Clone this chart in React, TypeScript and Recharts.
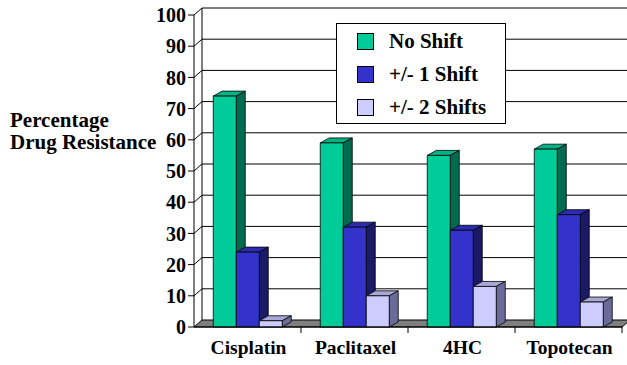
import { BarChart, Bar, XAxis, YAxis, CartesianGrid } from 'recharts'

const drugs = ['Cisplatin', 'Paclitaxel', '4HC', 'Topotecan']
const noShift = [74, 59, 55, 57]
const oneShift = [24, 32, 31, 36]
const twoShifts = [2, 10, 13, 8]
const yTicks = [0, 10, 20, 30, 40, 50, 60, 70, 80, 90, 100]

const seriesNames = ['No Shift', '+/- 1 Shift', '+/- 2 Shifts']

const data = drugs.map((d, i) => ({
  name: d,
  noShift: noShift[i],
  oneShift: oneShift[i],
  twoShifts: twoShifts[i],
}))

const FONT = '"Liberation Serif", "Times New Roman", serif'
const TOP = 15
const BOTTOM = 327
const DX = 8
const DY = 7

const colors = [
  { front: '#00cc99', top: '#00b386', side: '#006b4f' },
  { front: '#3333cc', top: '#2c2cb0', side: '#1a1a66' },
  { front: '#ccccff', top: '#a8a8d8', side: '#6b6b99' },
]

function bar3d(c: { front: string; top: string; side: string }) {
  return (props: any) => {
    const { x, y, width: w, height: h } = props
    const bx = 9
    const by = 5
    return (
      <g stroke="#000" strokeWidth={0.8} strokeLinejoin="round">
        <polygon points={`${x},${y} ${x + bx},${y - by} ${x + w + bx},${y - by} ${x + w},${y}`} fill={c.top} />
        <polygon points={`${x + w},${y} ${x + w + bx},${y - by} ${x + w + bx},${y + h - by} ${x + w},${y + h}`} fill={c.side} />
        <rect x={x} y={y} width={w} height={h} fill={c.front} />
      </g>
    )
  }
}

function gridLine(props: any) {
  const { x1, y1, x2 } = props
  if (Math.abs(y1 - BOTTOM) < 1) {
    return (
      <g key={props.key}>
        <polygon
          points={`${x1},${y1} ${x1 + DX},${y1 - DY} ${x2 + DX},${y1 - DY} ${x2},${y1}`}
          fill="#7f7f7f"
          stroke="#000"
          strokeWidth={1}
        />
      </g>
    )
  }
  return (
    <g key={props.key}>
      <path d={`M${x1},${y1} L${x1 + DX},${y1 - DY} L${x2 + DX},${y1 - DY}`} fill="none" stroke="#000" strokeWidth={1} />
      {Math.abs(y1 - TOP) < 1 && (
        <line x1={x1 + DX} y1={y1 - DY} x2={x1 + DX} y2={BOTTOM - DY} stroke="#000" strokeWidth={1} />
      )}
    </g>
  )
}

function XTick(props: any) {
  const { x, y, payload } = props
  const half = (622 - 194) / drugs.length / 2
  return (
    <g>
      <line x1={x + half} y1={BOTTOM} x2={x + half} y2={BOTTOM + 6} stroke="#000" strokeWidth={1} />
      <text x={x + 1} y={y + 19} textAnchor="middle" fontFamily={FONT} fontWeight="bold" fontSize={19.5} fill="#000">
        {payload.value}
      </text>
    </g>
  )
}

function LegendBox() {
  return (
    <div
      style={{
        position: 'absolute',
        left: 336,
        top: 23,
        width: 170,
        height: 101,
        border: '1px solid #000',
        background: '#fff',
        fontFamily: FONT,
        fontWeight: 'bold',
        fontSize: 21,
        boxSizing: 'border-box',
        paddingTop: 1,
      }}
    >
      {seriesNames.map((n, i) => (
        <div key={n} style={{ display: 'flex', alignItems: 'center', height: 33 }}>
          <span
            style={{
              display: 'inline-block',
              width: 15,
              height: 15,
              marginLeft: 20,
              marginRight: 15,
              background: colors[i].front,
              border: '1px solid #000',
            }}
          />
          <span>{n}</span>
        </div>
      ))}
    </div>
  )
}

export default function App() {
  return (
    <div style={{ position: 'absolute', left: 0, top: 0, width: 627, height: 365, background: '#fff' }}>
      <div
        style={{
          position: 'absolute',
          left: 10,
          top: 109,
          fontFamily: FONT,
          fontWeight: 'bold',
          fontSize: 21,
          lineHeight: '22px',
          color: '#000',
        }}
      >
        Percentage
        <br />
        Drug Resistance
      </div>
      <BarChart
        width={627}
        height={365}
        data={data}
        margin={{ top: TOP, right: 5, bottom: 0, left: 0 }}
        barCategoryGap="18%"
        barGap={0}
      >
        <CartesianGrid horizontal={gridLine} vertical={false} />
        <XAxis
          dataKey="name"
          height={38}
          axisLine={{ stroke: '#000' }}
          tickLine={false}
          tick={<XTick />}
          interval={0}
        />
        <YAxis
          domain={[0, 100]}
          ticks={yTicks}
          width={194}
          axisLine={{ stroke: '#000' }}
          tickLine={{ stroke: '#000' }}
          tickSize={6}
          tickMargin={2}
          tick={{ fill: '#000', fontFamily: FONT, fontWeight: 'bold', fontSize: 20 }}
          interval={0}
        />
        <Bar dataKey="noShift" name={seriesNames[0]} fill={colors[0].front} shape={bar3d(colors[0])} isAnimationActive={false} />
        <Bar dataKey="oneShift" name={seriesNames[1]} fill={colors[1].front} shape={bar3d(colors[1])} isAnimationActive={false} />
        <Bar dataKey="twoShifts" name={seriesNames[2]} fill={colors[2].front} shape={bar3d(colors[2])} isAnimationActive={false} />
      </BarChart>
      <LegendBox />
    </div>
  )
}
